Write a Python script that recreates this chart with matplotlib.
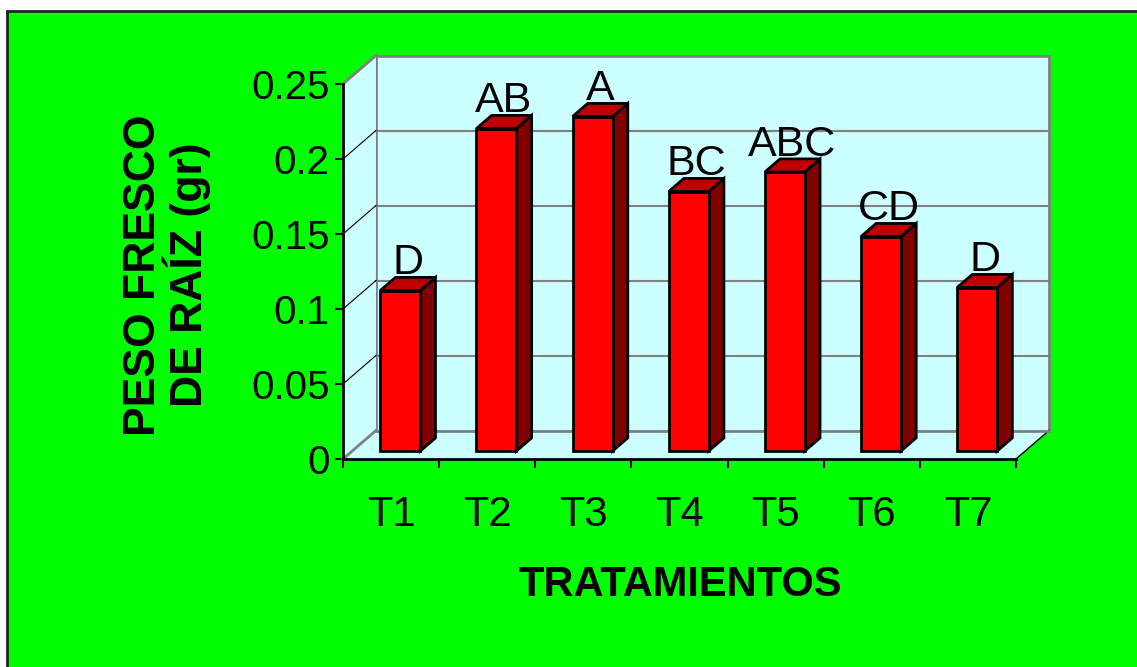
import matplotlib
matplotlib.use('Agg')
import matplotlib.pyplot as plt
from matplotlib.patches import Polygon, Rectangle

plt.rcParams['font.family'] = ['Liberation Sans', 'DejaVu Sans']

# datos
tratamientos = ['T1', 'T2', 'T3', 'T4', 'T5', 'T6', 'T7']
peso_fresco = [0.107, 0.215, 0.223, 0.173, 0.186, 0.143, 0.109]
letras = ['D', 'AB', 'A', 'BC', 'ABC', 'CD', 'D']
yticks = [0, 0.05, 0.1, 0.15, 0.2, 0.25]
ytick_labels = ['0', '0.05', '0.1', '0.15', '0.2', '0.25']

W, H = 1137, 667
VERDE = '#00FF00'
PARED = '#CCFFFF'
GRIS = '#808080'

# profundidad del grafico 3D (en unidades de datos)
DX, DY = 0.343, 0.019
D0, D1 = 0.28, 0.74   # cara frontal / trasera de las barras
BW = 0.416            # ancho de barra

fig = plt.figure(figsize=(W / 100, H / 100), dpi=100)
fig.patch.set_facecolor('white')
fig.add_artist(Rectangle((7 / W, -0.01), 1.02 - 7 / W, (H - 11) / H + 0.01,
                         transform=fig.transFigure, facecolor=VERDE,
                         edgecolor='#222222', linewidth=2, zorder=0))

ax = fig.add_axes([343 / W, (H - 459) / H, 673 / W, 375 / H])
ax.set_xlim(0, len(tratamientos))
ax.set_ylim(0, yticks[-1])
ax.patch.set_visible(False)
n = len(tratamientos)
ymax = yticks[-1]

# pared trasera
ax.add_patch(Polygon([(DX, DY), (n + DX, DY), (n + DX, ymax + DY), (DX, ymax + DY)],
                     closed=True, facecolor=PARED, edgecolor=GRIS, linewidth=2,
                     clip_on=False, zorder=1))
# pared lateral
ax.add_patch(Polygon([(0, 0), (DX, DY), (DX, ymax + DY), (0, ymax)], closed=True,
                     facecolor=PARED, edgecolor='none', clip_on=False, zorder=1))
# piso
ax.add_patch(Polygon([(0, 0), (n, 0), (n + DX, DY), (DX, DY)], closed=True,
                     facecolor=PARED, edgecolor='none', clip_on=False, zorder=1))
ax.plot([n, n + DX], [0, DY], color='black', lw=1, clip_on=False, zorder=2)
ax.plot([0, DX], [0, DY], color=GRIS, lw=2, clip_on=False, zorder=2)
ax.plot([0, DX], [ymax, ymax + DY], color=GRIS, lw=2, clip_on=False, zorder=2)
ax.plot([DX, n + DX], [DY, DY], color=GRIS, lw=2, clip_on=False, zorder=2)

# lineas de division
for yt in yticks[1:-1]:
    ax.plot([DX, n + DX], [yt + DY, yt + DY], color=GRIS, lw=1.5, clip_on=False, zorder=2)
    ax.plot([0, DX], [yt, yt + DY], color='black', lw=0.8, clip_on=False, zorder=2)

# barras
for i, v in enumerate(peso_fresco):
    x0 = i + 0.5 - BW / 2
    x1 = x0 + BW
    fx0, fx1, fy = x0 + D0 * DX, x1 + D0 * DX, D0 * DY
    bx0, bx1, by = x0 + D1 * DX, x1 + D1 * DX, D1 * DY
    frente = [(fx0, fy), (fx1, fy), (fx1, v + fy), (fx0, v + fy)]
    lado = [(fx1, fy), (bx1, by), (bx1, v + by), (fx1, v + fy)]
    techo = [(fx0, v + fy), (fx1, v + fy), (bx1, v + by), (bx0, v + by)]
    for pts, col in [(lado, '#800000'), (techo, '#C00000'), (frente, '#FF0000')]:
        ax.add_patch(Polygon(pts, closed=True, facecolor=col, edgecolor='black',
                             linewidth=2, joinstyle='miter', clip_on=False, zorder=3))
    ax.text(i + 0.5 + 0.5 * (D0 + D1) * DX, v + by + 0.002, letras[i],
            ha='center', va='baseline', fontsize=31, zorder=4)

# ejes
for s in ['top', 'right']:
    ax.spines[s].set_visible(False)
for s in ['left', 'bottom']:
    ax.spines[s].set_linewidth(2)
    ax.spines[s].set_color('black')
    ax.spines[s].set_zorder(5)

ax.set_yticks(yticks, ytick_labels)
ax.tick_params(axis='y', direction='out', length=5.8, width=1.5, pad=4, labelsize=29)
ax.set_xticks(range(n + 1), [''] * (n + 1))
ax.set_xticks([i + 0.5 for i in range(n)], tratamientos, minor=True)
ax.tick_params(axis='x', which='major', direction='out', length=6.5, width=1.5)
ax.tick_params(axis='x', which='minor', length=0, pad=26, labelsize=30)

fig.text(167 / W, 1 - 275 / H, 'PESO FRESCO\nDE RAÍZ (gr)', rotation=90,
         ha='center', va='center', multialignment='center',
         fontsize=32, fontweight='bold', linespacing=0.95)
fig.text(680 / W, 1 - 585 / H, 'TRATAMIENTOS', ha='center', va='center',
         fontsize=30, fontweight='bold')

fig.savefig('out.png', dpi=100)
